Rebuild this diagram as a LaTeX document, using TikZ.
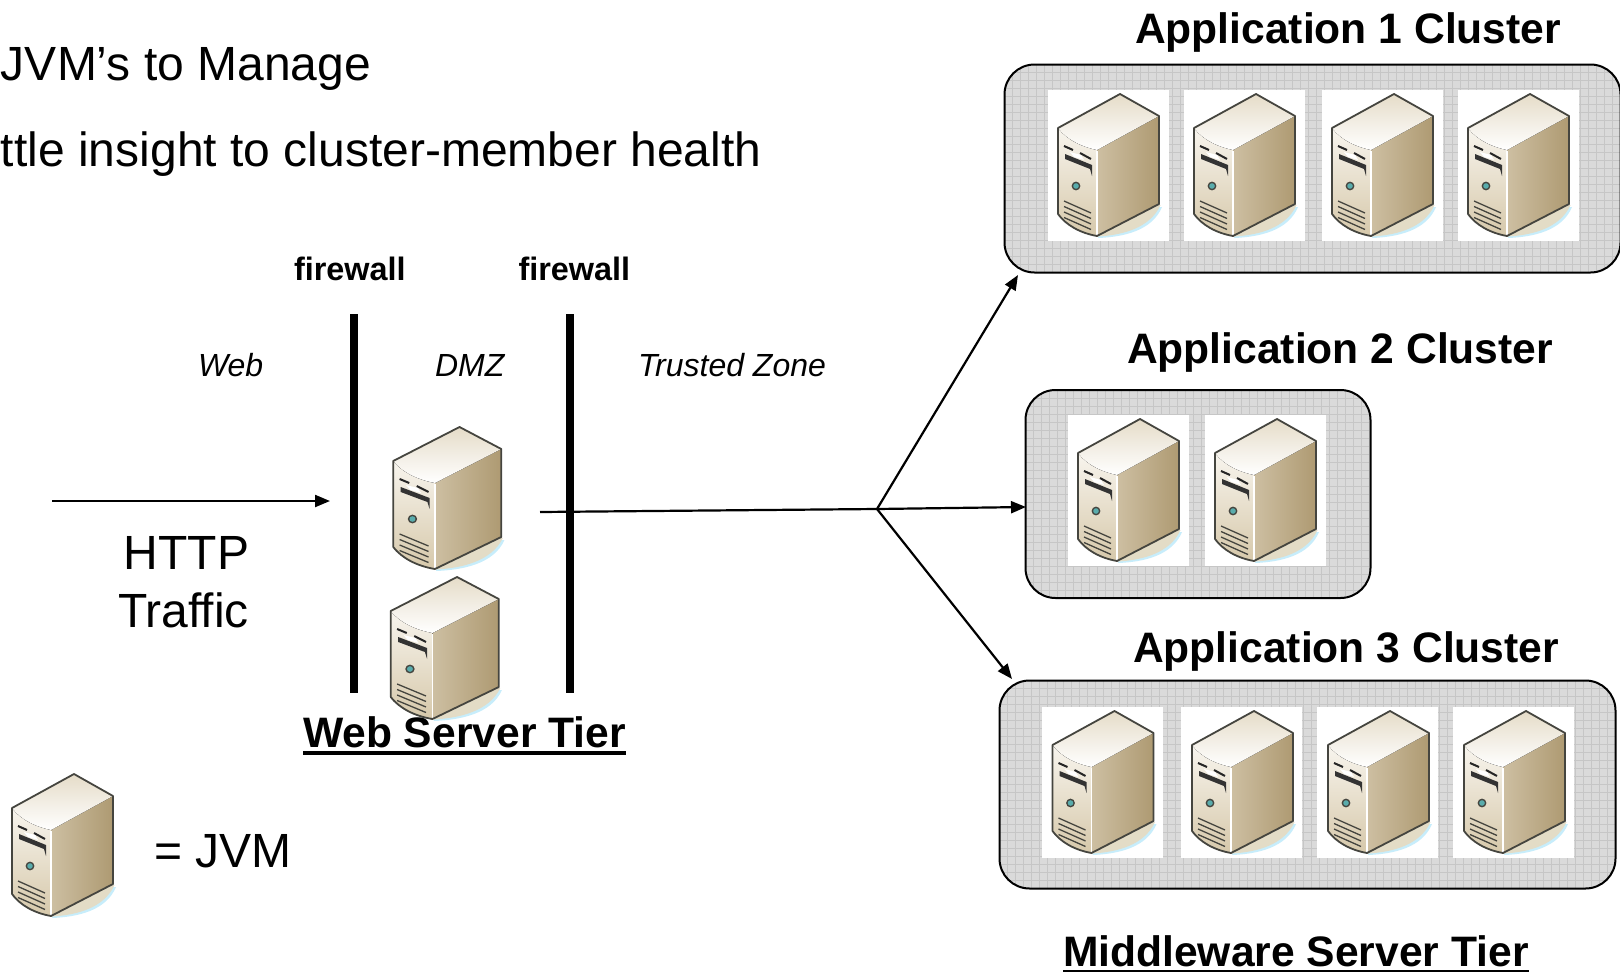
\documentclass[tikz,border=0pt]{standalone}
\usepackage{fontspec}
\setmainfont{Liberation Sans}
\usetikzlibrary{calc,arrows.meta}
\definecolor{facetop}{HTML}{F8F5EE}
\definecolor{facelo}{HTML}{D6C8AA}
\definecolor{sideL}{HTML}{CDBFA2}
\definecolor{sideM}{HTML}{E6DDCA}
\definecolor{sideR}{HTML}{AE9A72}
\definecolor{edge}{HTML}{45453F}
\definecolor{shad}{HTML}{E3DCC6}
\definecolor{gridbg}{HTML}{DADADA}
\definecolor{gridln}{HTML}{C6C6C6}
\newcommand{\ulbox}[1]{\setbox0\hbox{#1}\leavevmode\rlap{\raisebox{-8pt}{\rule{\wd0}{4.5pt}}}\box0}
\newcommand{\fsz}[1]{\fontsize{#1}{#1}\selectfont}
\tikzset{
  x=1pt,y=-1pt,
  lbl/.style={anchor=base west,inner sep=0pt,outer sep=0pt,text=black},
  bigtxt/.style={lbl,font=\fsz{48}},
  grouptitle/.style={lbl,font=\fsz{42.6}\bfseries},
  tiertitle/.style={lbl,font=\fsz{42.6}\bfseries},
  fwtxt/.style={lbl,font=\fsz{32.4}\bfseries},
  zonetxt/.style={lbl,font=\fsz{32}\itshape},
  wall/.style={draw=none,fill=black,minimum width=8pt,minimum height=379pt,inner sep=0pt,anchor=north},
  link/.style={draw=black,line width=2.2pt},
  arrowlink/.style={link,-{Triangle[length=15pt,width=12pt]}},
  clusterbox/.style={draw=black,line width=2pt,rounded corners=30pt,fill=gridbg,anchor=north west,inner sep=0pt,
    path picture={
      \foreach \i in {0,8,...,640}{\draw[gridln,line width=1pt] ($(path picture bounding box.north west)+(\i,0)$) -- ++(0,230);}
      \foreach \i in {0,8,...,224}{\draw[gridln,line width=1pt] ($(path picture bounding box.north west)+(0,\i)$) -- ++(640,0);}
    }},
  whitebox/.style={fill=white,draw=none},
  server/.pic={
    % shadow
    \fill[cyan!22] (50,147) .. controls (75,146) and (104,140) .. (114,116) -- (60,120) -- cycle;
    \fill[shad] (50,145.5) .. controls (75,144) and (102,137) .. (112.5,114) -- (60,120) -- cycle;
    % right side
    \fill[left color=sideL,middle color=sideM,right color=sideR] (49,59) -- (111,25) -- (111,113) -- (49,145) -- cycle;
    % front
    \fill[top color=facetop,bottom color=facelo] (10,37) .. controls (20,50) and (35,56) .. (49,59) -- (49,145) .. controls (32,142) and (18,134) .. (10,123) -- cycle;
    % top
    \fill[top color=facelo!55!facetop,bottom color=white] (10,37) -- (72,3) -- (111,25) -- (49,59) .. controls (35,56) and (20,50) .. (10,37) -- cycle;
    \draw[white,line width=1.4pt] (49,60) -- (49,145);
    % outline
    \draw[edge,line width=1.8pt,line join=round] (10,123) -- (10,37) -- (72,3) -- (111,25) -- (111,113) -- (49,145) .. controls (32,142) and (18,134) .. (10,123);
    % slots
    \draw[black!85,line width=2pt] (16,55) -- (25,59);
    \draw[black!85,line width=2pt] (32,62) -- (43,68);
    \fill[black!80] (17,63) -- (44,74) -- (44,85) -- (42,78) -- (17,68) -- cycle;
    \fill[white] (22,61) -- (33,64) -- (36,69) -- (26,66) -- cycle;
    % LED
    \fill[edge] (28,95) circle (4.4pt);
    \fill[teal!65] (28,95) circle (2.8pt);
    % vents
    \foreach \d in {0,5.5,11,16.5}{\draw[edge,line width=1.3pt] (16,110+\d) -- (43,122+\d);}
  }
}
\begin{document}
\begin{tikzpicture}
\useasboundingbox (0,0) rectangle (1620,972);

% clusters
\node[clusterbox,minimum width=616pt,minimum height=208pt] (cA) at (1003.5,63.5) {};
\node[clusterbox,minimum width=345pt,minimum height=208pt] (cB) at (1024.5,389) {};
\node[clusterbox,minimum width=616pt,minimum height=208pt] (cC) at (998.5,679.5) {};

% white tiles + servers
\foreach \xx in {1048,1184,1322,1458}{
  \fill[whitebox] (\xx,90) rectangle ++(121,151);
  \pic at (\xx,91) {server};
}
\foreach \xx in {1068,1205}{
  \fill[whitebox] (\xx,415) rectangle ++(121,151);
  \pic at (\xx,416) {server};
}
\foreach \xx in {1041.5,1181,1317,1453}{
  \fill[whitebox] (\xx,707) rectangle ++(121,151);
  \pic at (\xx+1,708) {server};
}
\pic[xscale=1.07] at (382.5,424) {server};
\pic[xscale=1.07] at (380,574) {server};
\pic at (2,771) {server};

% firewalls
\node[wall] (wallA) at (354,314) {};
\node[wall] (wallB) at (570,314) {};

% connectors
\coordinate (httpStart) at (52,501);
\coordinate (httpEnd) at (330,501);
\coordinate (dmzOut) at (540,512);
\coordinate (hub) at (877,509);
\coordinate (tipA) at (1018,275);
\coordinate (tipB) at (1026,507);
\coordinate (tipC) at (1012,679);
\draw[arrowlink] (httpStart) -- (httpEnd);
\draw[link] (dmzOut) -- (hub);
\draw[arrowlink] (hub) -- (tipA);
\draw[arrowlink] (hub) -- (tipB);
\draw[arrowlink] (hub) -- (tipC);

% text
\node[bigtxt] (t1) at (1,80) {JVM’s to Manage};
\node[bigtxt] (t2) at (1,166) {ttle insight to cluster-member health};
\node[fwtxt] (f1) at (294,280) {firewall};
\node[fwtxt] (f2) at (518.5,280) {firewall};
\node[zonetxt] (z1) at (198,376) {Web};
\node[zonetxt] (z2) at (435,376) {DMZ};
\node[zonetxt] (z3) at (638,376) {Trusted Zone};
\node[bigtxt,anchor=base] (h1) at (186.5,569) {HTTP};
\node[bigtxt,anchor=base] (h2) at (183.5,627) {Traffic};
\node[bigtxt] (jvm) at (154,867) {= JVM};
\node[grouptitle] (g1) at (1135,43) {Application 1 Cluster};
\node[grouptitle] (g2) at (1127,363) {Application 2 Cluster};
\node[grouptitle] (g3) at (1133,662) {Application 3 Cluster};
\node[tiertitle] (w1) at (303,747) {\ulbox{Web Server Tier}};
\node[tiertitle] (w2) at (1063,966) {\ulbox{Middleware Server Tier}};
\end{tikzpicture}
\end{document}
